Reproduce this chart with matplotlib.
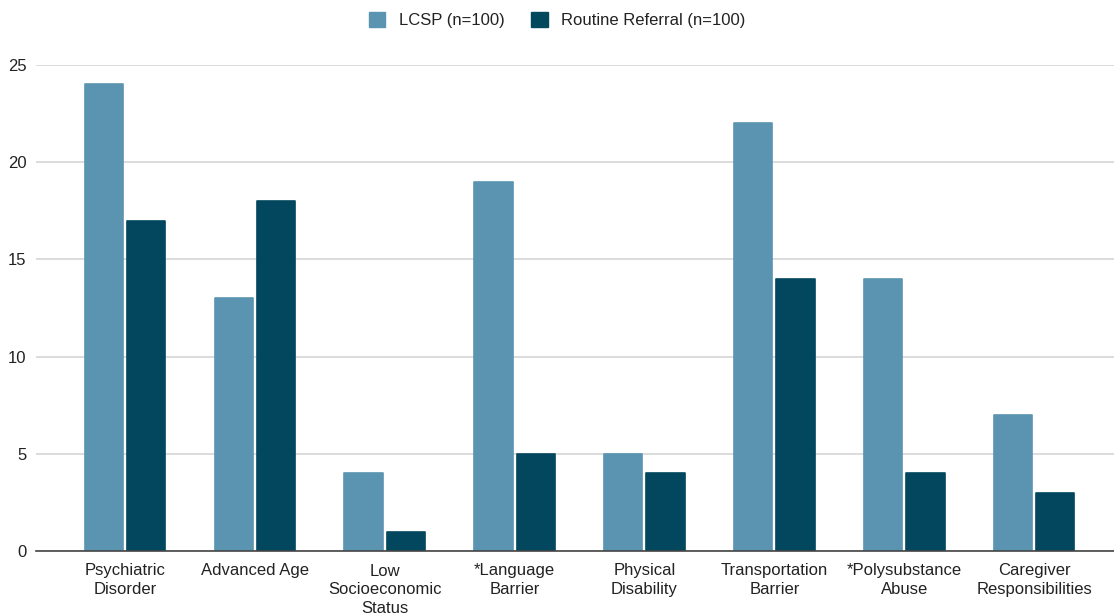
import matplotlib
matplotlib.use("Agg")
import matplotlib.pyplot as plt
import numpy as np
from matplotlib.patches import Patch

categories = ["Psychiatric\nDisorder", "Advanced Age", "Low\nSocioeconomic\nStatus",
              "*Language\nBarrier", "Physical\nDisability", "Transportation\nBarrier",
              "*Polysubstance\nAbuse", "Caregiver\nResponsibilities"]
lcsp = [24, 13, 4, 19, 5, 22, 14, 7]
routine = [17, 18, 1, 5, 4, 14, 4, 3]
series_names = ["LCSP (n=100)", "Routine Referral (n=100)"]
yticks = [0, 5, 10, 15, 20, 25]

c_lcsp = "#5b94b1"
c_routine = "#02475e"

plt.rcParams["font.family"] = ["Liberation Sans", "DejaVu Sans"]

fig = plt.figure(figsize=(11.14, 6.14), dpi=100)
ax = fig.add_axes([36 / 1114, 1 - 551 / 614, 1 - 36 / 1114, (551 - 65) / 614])

x = np.arange(len(categories))
w = 0.295
for vals, off, col in [(lcsp, -0.163, c_lcsp), (routine, 0.163, c_routine)]:
    bars = ax.bar(x + off, vals, width=w, color=col, edgecolor=col, linewidth=1.2, zorder=3)
    for b in bars:
        b.set_joinstyle("round")

ax.set_xlim(-0.685, 7.615)
ax.set_ylim(0, 25)
ax.set_yticks(yticks)
ax.set_yticklabels([str(t) for t in yticks], fontsize=12, color="#222222")
ax.set_xticks(x)
ax.set_xticklabels(categories, fontsize=12, color="#222222", linespacing=1.3)
ax.tick_params(axis="both", length=0)
ax.tick_params(axis="x", pad=9)
ax.tick_params(axis="y", pad=7)

ax.yaxis.grid(True, color="#d6d6d6", linewidth=1.2, zorder=0)
ax.set_axisbelow(True)
for s in ["top", "right", "left"]:
    ax.spines[s].set_visible(False)
ax.spines["bottom"].set_color("#444444")
ax.spines["bottom"].set_linewidth(1.2)
ax.spines["bottom"].set_zorder(4)

handles = [Patch(facecolor=c_lcsp, edgecolor=c_lcsp), Patch(facecolor=c_routine, edgecolor=c_routine)]
fig.legend(handles, series_names, loc="center", bbox_to_anchor=(0.5, 1 - 20 / 614),
           ncol=2, frameon=False, fontsize=12, handlelength=1.0, handleheight=1.0,
           handletextpad=0.8, columnspacing=1.6, labelcolor="#222222")

fig.savefig("out.png", dpi=100)
